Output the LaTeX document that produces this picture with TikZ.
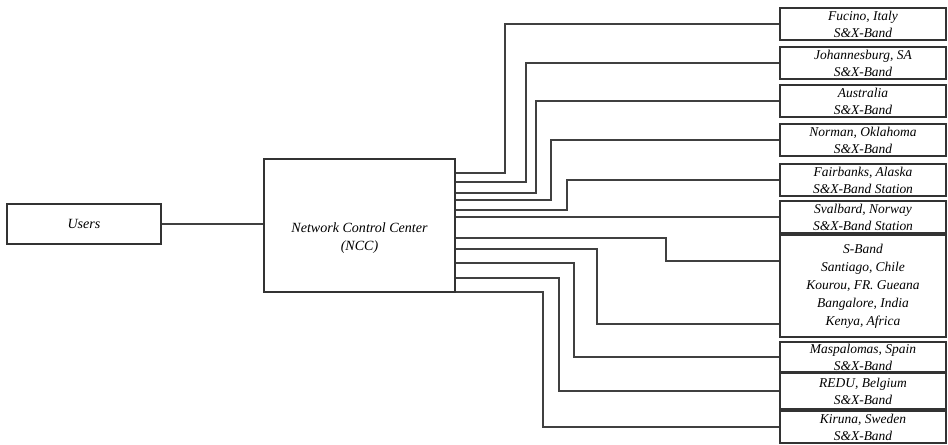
\documentclass[tikz,border=0pt]{standalone}
\usepackage{fontspec}
\setmainfont{Liberation Serif}
\usepackage{tikz}

\begin{document}
\begin{tikzpicture}[x=0.03cm, y=-0.03cm,
  box/.style={draw=black!80, line width=1.5pt, inner sep=0pt, align=center,
              font=\fontsize{12}{16}\selectfont\itshape},
  stn/.style={box, minimum width=4.98cm,
              font=\fontsize{11.5}{14.5}\selectfont\itshape},
  wire/.style={draw=black!75, line width=1.4pt}]
\useasboundingbox[fill=white] (0,0) rectangle (948,444);
% left side
\node[box, minimum width=4.62cm, minimum height=1.2cm] (users) at (84,224) {Users};
\node[box, minimum width=5.73cm, minimum height=3.99cm,
  label={[align=center, font=\fontsize{12}{15.5}\selectfont\itshape, yshift=-0.375cm]center:{Network Control Center\\(NCC)}}]
  (ncc) at (359.5,225.5) {};
\draw[wire] (users.east) -- (ncc.west |- users.east);
% ground stations
\node[stn, minimum height=0.96cm] (fucino) at (863,24)  {Fucino, Italy\\S\&X-Band};
\node[stn, minimum height=0.96cm] (joburg) at (863,63)  {Johannesburg, SA\\S\&X-Band};
\node[stn, minimum height=0.96cm] (austr)  at (863,101) {Australia\\S\&X-Band};
\node[stn, minimum height=0.96cm] (norman) at (863,140) {Norman, Oklahoma\\S\&X-Band};
\node[stn, minimum height=0.96cm] (fairb)  at (863,180) {Fairbanks, Alaska\\S\&X-Band Station};
\node[stn, minimum height=0.96cm] (svalb)  at (863,217) {Svalbard, Norway\\S\&X-Band Station};
\node[stn, minimum height=3.06cm, font=\fontsize{11.5}{15.3}\selectfont\itshape] (sband) at (863,286)
  {S-Band\\Santiago, Chile\\Kourou, FR. Gueana\\Bangalore, India\\Kenya, Africa};
\node[stn, minimum height=0.90cm] (maspa)  at (863,357) {Maspalomas, Spain\\S\&X-Band};
\node[stn, minimum height=1.08cm] (redu)   at (863,391) {REDU, Belgium\\S\&X-Band};
\node[stn, minimum height=0.96cm] (kiruna) at (863,427) {Kiruna, Sweden\\S\&X-Band};
% links from the NCC
\foreach \y/\x/\t in {173/505/fucino.west, 182/526/joburg.west, 193/536/austr.west,
    200/551/norman.west, 210/567/fairb.west, 217/620/svalb.west,
    238/666/{sband.west |- 0,261}, 249/597/{sband.west |- 0,324},
    263/574/maspa.west, 278/559/redu.west, 292/543/kiruna.west} {
  \draw[wire] (ncc.east |- 0,\y) -- (\x,\y) |- (\t);
}
\end{tikzpicture}
\end{document}
